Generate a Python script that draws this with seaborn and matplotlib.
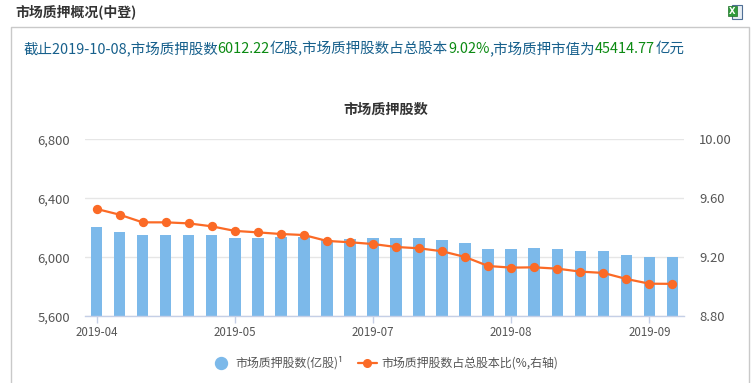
import matplotlib
matplotlib.use("Agg")
import matplotlib.pyplot as plt
import matplotlib.patches as patches
from matplotlib.lines import Line2D
import pandas as pd
import seaborn as sns

# data
periods = list(range(26))
shares_bn = [6206, 6172, 6151, 6151, 6151, 6151, 6131, 6131, 6138, 6138, 6118, 6124, 6131,
             6131, 6131, 6118, 6097, 6056, 6056, 6063, 6056, 6043, 6043, 6016, 6002, 6002]
ratio_pct = [9.528, 9.489, 9.437, 9.437, 9.430, 9.410, 9.379, 9.369, 9.358, 9.351, 9.311, 9.302, 9.290,
             9.270, 9.261, 9.241, 9.202, 9.141, 9.130, 9.132, 9.123, 9.103, 9.094, 9.053, 9.021, 9.020]
tick_pos = [0, 6, 12, 18, 24]
tick_labels = ["2019-04", "2019-05", "2019-07", "2019-08", "2019-09"]
left_ticks = [5600, 6000, 6400, 6800]
right_ticks = [8.80, 9.20, 9.60, 10.00]

summary_parts = [("截止2019-10-08,市场质押股数", "#17608c"), ("6012.22", "#0b8a12"), ("亿股,市场质押股数占总股本", "#17608c"),
                 ("9.02%", "#0b8a12"), (",市场质押市值为", "#17608c"), ("45414.77", "#0b8a12"), ("亿元", "#17608c")]

W, H = 756, 383
df = pd.DataFrame({"period": periods, "shares": shares_bn, "ratio": ratio_pct})

sns.set_theme(style="white")
plt.rcParams["font.family"] = ["Noto Sans CJK SC", "DejaVu Sans"]
fig = plt.figure(figsize=(W / 100, H / 100), dpi=100, facecolor="white")

# page furniture, in pixel coordinates
bg = fig.add_axes([0, 0, 1, 1])
bg.set_xlim(0, W)
bg.set_ylim(H, 0)
bg.axis("off")
bg.plot([10.5, 10.5, 748.5, 748.5], [H, 26.5, 26.5, H], color="#c9c9c9", lw=1)
bg.text(15, 12, "市场质押概况(中登)", fontsize=10, color="#333333", weight="bold", va="center")

# excel icon
bg.add_patch(patches.Rectangle((732, 5), 10, 14, fc="#e8eef4", ec="#4f6f96", lw=0.8))
bg.add_patch(patches.Rectangle((728, 6), 9, 10, fc="#2f9a3a", ec="#1f6f2a", lw=0.5))
bg.text(732.5, 11, "X", fontsize=6, color="white", weight="bold", ha="center", va="center", family="DejaVu Sans")

# summary line, coloured piece by piece
x = 23
r = fig.canvas.get_renderer()
for part, col in summary_parts:
    t = bg.text(x, 49, part, fontsize=10.43, color=col, va="center", ha="left")
    x = bg.transData.inverted().transform(t.get_window_extent(r).get_points())[1, 0]

bg.text(385.5, 110, "市场质押股数", fontsize=10.2, color="#333333", weight="bold", ha="center", va="center")

# chart
ax = fig.add_axes([85 / W, 1 - 316.3 / H, 599 / W, 177 / H])
sns.barplot(data=df, x="period", y="shares", color="#7cb9ea", saturation=1, width=0.5, linewidth=0, ax=ax, zorder=2)
ax.set_ylim(left_ticks[0], left_ticks[-1])
ax.set_xlim(-0.5, len(periods) - 0.5)
ax.set_yticks(left_ticks, [f"{v:,}" for v in left_ticks])
ax.set_xticks(tick_pos, tick_labels)
ax.set_xlabel("")
ax.set_ylabel("")
ax.grid(axis="y", color="#e6e6e6", lw=1, zorder=0)
ax.set_axisbelow(True)
for s in ["top", "left", "right"]:
    ax.spines[s].set_visible(False)
ax.spines["bottom"].set_color("#c5cfe6")
ax.spines["bottom"].set_linewidth(1)
ax.tick_params(axis="x", length=5, width=1, color="#c5cfe6", bottom=True, labelsize=8.3, labelcolor="#555555", pad=2)
ax.tick_params(axis="y", length=0, labelsize=9.4, labelcolor="#555555", pad=10.8)

ax2 = ax.twinx()
sns.pointplot(data=df, x="period", y="ratio", color="#fb6a26", markers="o", linewidth=1.6,
              markersize=5.5, errorbar=None, native_scale=True, ax=ax2, zorder=3)
ax2.set_xlim(ax.get_xlim())
ax2.set_ylim(right_ticks[0], right_ticks[-1])
ax2.set_yticks(right_ticks, [f"{v:.2f}" for v in right_ticks])
ax2.set_xlabel("")
ax2.set_ylabel("")
ax2.grid(False)
for s in ax2.spines.values():
    s.set_visible(False)
ax2.tick_params(axis="y", length=0, labelsize=9.4, labelcolor="#555555", pad=10.8, right=False)

# legend
handles = [Line2D([], [], ls="", marker="o", ms=8.6, color="#7cb9ea"),
           Line2D([], [], color="#fb6a26", marker="o", ms=5.5, lw=1.6)]
fig.legend(handles, ["市场质押股数(亿股)¹", "市场质押股数占总股本比(%,右轴)"], loc="center",
           bbox_to_anchor=(385 / W, 1 - 363 / H), ncol=2, frameon=False, fontsize=8.6, labelcolor="#555555",
           handlelength=1.6, columnspacing=1.2, handletextpad=0.4)

fig.savefig("out.png", dpi=100)
